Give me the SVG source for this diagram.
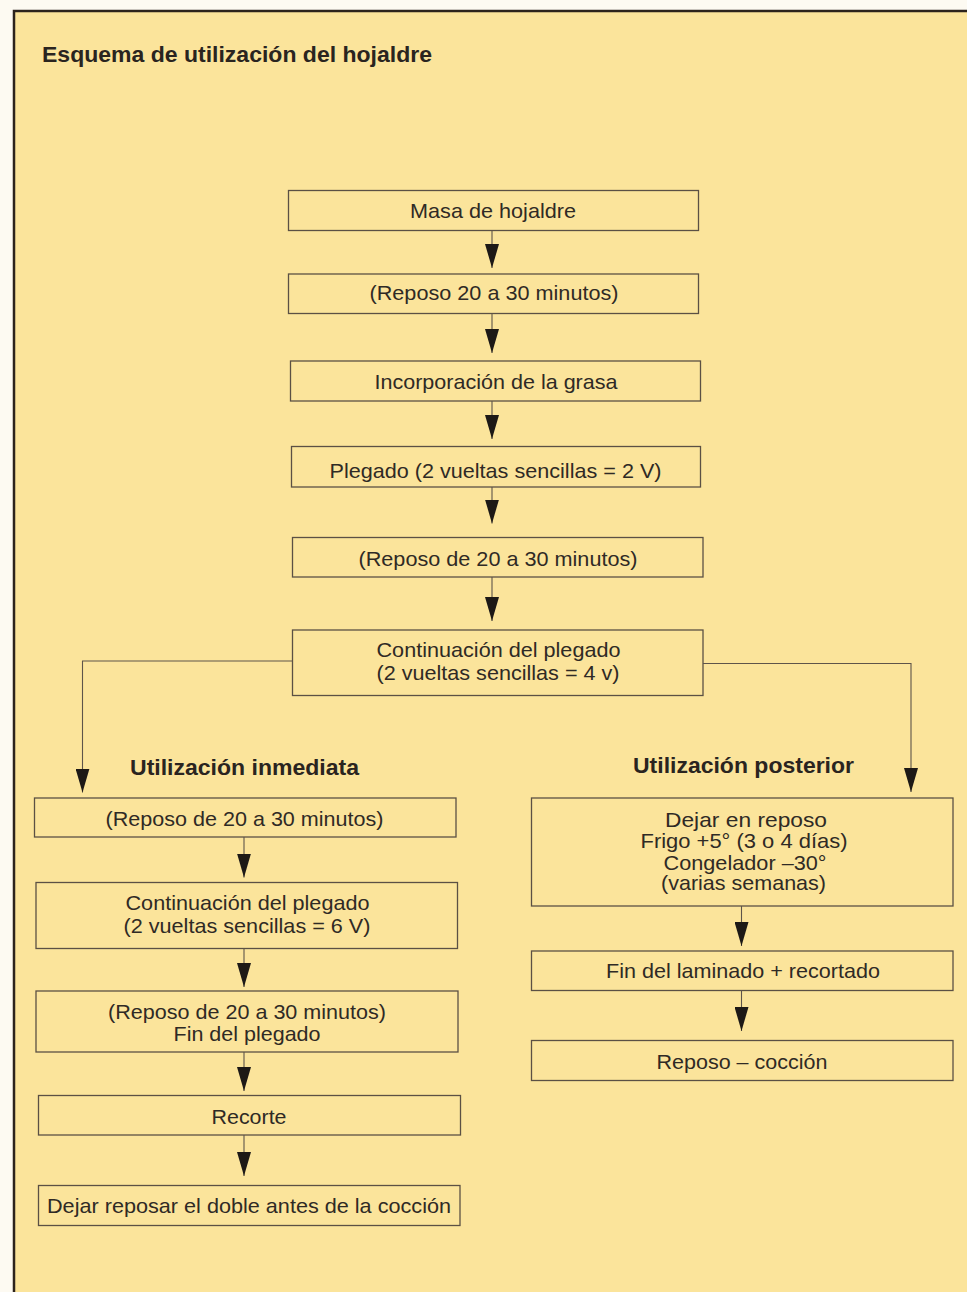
<svg xmlns="http://www.w3.org/2000/svg" width="967" height="1292" viewBox="0 0 967 1292">
  <style>
    .page { fill: #fbe49b; }
    .frame { fill: none; stroke: #2c231c; stroke-width: 2.5; }
    .box { fill: none; stroke: #5b5044; stroke-width: 1.3; }
    .txt { font-family: "Liberation Sans", Arial, sans-serif; font-size: 21px; fill: #2f2a25; text-anchor: middle; }
    .bold { font-family: "Liberation Sans", Arial, sans-serif; font-size: 22px; font-weight: bold; fill: #2a241f; }
    .link { fill: none; stroke: #5e544a; stroke-width: 1.1; marker-end: url(#head); }
  </style>
  <defs>
    <marker id="head" markerUnits="userSpaceOnUse" viewBox="0 0 24 14" markerWidth="24" markerHeight="14" refX="24" refY="7" orient="auto">
      <path d="M0,0 L24,7 L0,14 Z" fill="#1d1916"/>
    </marker>
  </defs>

  <!-- paper and panel -->
  <rect x="0" y="0" width="967" height="1292" fill="#fdfaf2"/>
  <rect class="page" x="14" y="11" width="953" height="1281"/>
  <path class="frame" d="M14,1292 V11 H967"/>

  <text class="bold" x="42" y="61.5" textLength="390" lengthAdjust="spacingAndGlyphs">Esquema de utilización del hojaldre</text>

  <!-- main column -->
  <g id="n1">
    <rect class="box" x="288.5" y="190.5" width="410" height="40"/>
    <text class="txt" x="493" y="218" textLength="166" lengthAdjust="spacingAndGlyphs">Masa de hojaldre</text>
  </g>
  <g id="n2">
    <rect class="box" x="288.5" y="274" width="410" height="39.5"/>
    <text class="txt" x="494" y="300" textLength="249" lengthAdjust="spacingAndGlyphs">(Reposo 20 a 30 minutos)</text>
  </g>
  <g id="n3">
    <rect class="box" x="290.5" y="361" width="410" height="40"/>
    <text class="txt" x="496" y="388.5" textLength="243" lengthAdjust="spacingAndGlyphs">Incorporación de la grasa</text>
  </g>
  <g id="n4">
    <rect class="box" x="291.5" y="446.5" width="409" height="40.5"/>
    <text class="txt" x="495.5" y="478" textLength="332" lengthAdjust="spacingAndGlyphs">Plegado (2 vueltas sencillas = 2 V)</text>
  </g>
  <g id="n5">
    <rect class="box" x="292.5" y="537.5" width="410.5" height="39.5"/>
    <text class="txt" x="498" y="565.5" textLength="279" lengthAdjust="spacingAndGlyphs">(Reposo de 20 a 30 minutos)</text>
  </g>
  <g id="n6">
    <rect class="box" x="292.5" y="630" width="410.5" height="65.5"/>
    <text class="txt" x="498.5" y="657" textLength="244" lengthAdjust="spacingAndGlyphs">Continuación del plegado</text>
    <text class="txt" x="498" y="680" textLength="243" lengthAdjust="spacingAndGlyphs">(2 vueltas sencillas = 4 v)</text>
  </g>

  <!-- branch headings -->
  <text class="bold" x="130" y="774.5" textLength="229" lengthAdjust="spacingAndGlyphs">Utilización inmediata</text>
  <text class="bold" x="633" y="773" textLength="221" lengthAdjust="spacingAndGlyphs">Utilización posterior</text>

  <!-- immediate use -->
  <g id="l1">
    <rect class="box" x="34.5" y="798" width="421.5" height="39"/>
    <text class="txt" x="244.5" y="825.5" textLength="278" lengthAdjust="spacingAndGlyphs">(Reposo de 20 a 30 minutos)</text>
  </g>
  <g id="l2">
    <rect class="box" x="36" y="882.5" width="421.5" height="66"/>
    <text class="txt" x="247.5" y="909.5" textLength="244" lengthAdjust="spacingAndGlyphs">Continuación del plegado</text>
    <text class="txt" x="247" y="933" textLength="247" lengthAdjust="spacingAndGlyphs">(2 vueltas sencillas = 6 V)</text>
  </g>
  <g id="l3">
    <rect class="box" x="36" y="991" width="422" height="61"/>
    <text class="txt" x="247" y="1018.5" textLength="278" lengthAdjust="spacingAndGlyphs">(Reposo de 20 a 30 minutos)</text>
    <text class="txt" x="247" y="1040.5" textLength="147" lengthAdjust="spacingAndGlyphs">Fin del plegado</text>
  </g>
  <g id="l4">
    <rect class="box" x="38.5" y="1095.5" width="422" height="39.5"/>
    <text class="txt" x="249" y="1123.5" textLength="75" lengthAdjust="spacingAndGlyphs">Recorte</text>
  </g>
  <g id="l5">
    <rect class="box" x="38.5" y="1185.5" width="421.5" height="40"/>
    <text class="txt" x="249" y="1213" textLength="404" lengthAdjust="spacingAndGlyphs">Dejar reposar el doble antes de la cocción</text>
  </g>

  <!-- later use -->
  <g id="r1">
    <rect class="box" x="531.5" y="798" width="421.5" height="108"/>
    <text class="txt" x="746" y="826.5" textLength="162" lengthAdjust="spacingAndGlyphs">Dejar en reposo</text>
    <text class="txt" x="744" y="848" textLength="207" lengthAdjust="spacingAndGlyphs">Frigo +5° (3 o 4 días)</text>
    <text class="txt" x="745" y="869.5" textLength="163" lengthAdjust="spacingAndGlyphs">Congelador –30°</text>
    <text class="txt" x="743.5" y="890" textLength="165" lengthAdjust="spacingAndGlyphs">(varias semanas)</text>
  </g>
  <g id="r2">
    <rect class="box" x="531.5" y="951" width="421.5" height="39.5"/>
    <text class="txt" x="743" y="977.5" textLength="274" lengthAdjust="spacingAndGlyphs">Fin del laminado + recortado</text>
  </g>
  <g id="r3">
    <rect class="box" x="531.5" y="1040.5" width="421.5" height="40"/>
    <text class="txt" x="742" y="1068.5" textLength="171" lengthAdjust="spacingAndGlyphs">Reposo – cocción</text>
  </g>

  <!-- connectors -->
  <g id="connectors">
    <path class="link" d="M492,231 V268"/>
    <path class="link" d="M492,313.5 V353"/>
    <path class="link" d="M492,401 V439"/>
    <path class="link" d="M492,487 V523.5"/>
    <path class="link" d="M492,577 V621"/>
    <path class="link" d="M292.5,661 H82.5 V792.5"/>
    <path class="link" d="M703,663.5 H911 V792"/>
    <path class="link" d="M244,837 V877.5"/>
    <path class="link" d="M244,948.5 V987"/>
    <path class="link" d="M244,1052 V1091"/>
    <path class="link" d="M244,1135 V1176"/>
    <path class="link" d="M741.5,906 V946"/>
    <path class="link" d="M741.5,990.5 V1031"/>
  </g>
</svg>
